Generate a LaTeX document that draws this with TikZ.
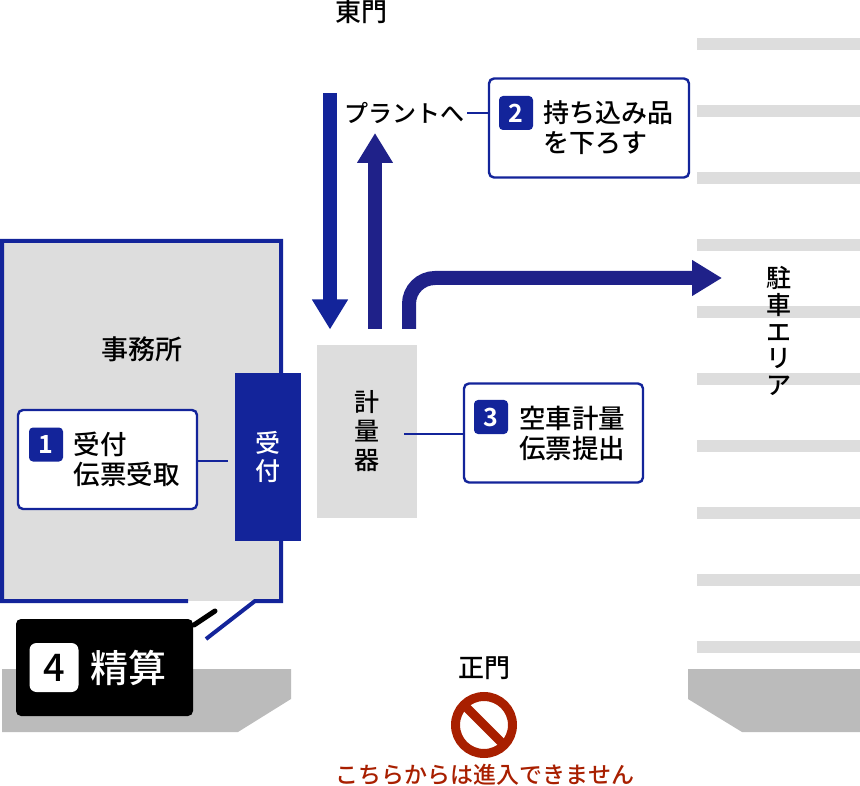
\documentclass[tikz,border=0pt]{standalone}
\usepackage{fontspec}
\setmainfont{Noto Sans CJK JP Medium}
\newfontfamily\digitfont{Noto Sans CJK JP Bold}
\usetikzlibrary{arrows.meta}

\definecolor{navy}{HTML}{13249A}
\definecolor{navyb}{HTML}{1F2189}
\definecolor{lightgr}{HTML}{DDDDDD}
\definecolor{darkgr}{HTML}{BBBBBB}
\definecolor{stopred}{HTML}{A81F00}

\tikzset{
  label/.style={inner sep=0pt, font=\fontsize{24}{29}\selectfont},
  callout/.style={draw=navy, line width=2.4pt, fill=white, rounded corners=5pt, inner sep=0pt, minimum width=#1, minimum height=99pt},
  badge/.style={fill=navy, text=white, rounded corners=4pt, inner sep=0pt, minimum size=34pt, font=\digitfont\fontsize{25}{25}\selectfont},
  callouttext/.style={anchor=west, align=left, inner sep=0pt, font=\fontsize{26.5}{30}\selectfont},
  road/.style={-{Triangle[length=30pt,width=34pt]}, line width=14pt},
  leader/.style={draw=navy, line width=2pt}
}

\begin{document}
\begin{tikzpicture}[x=1pt,y=-1pt]

\def\gateleft{(2,669) -- (291,669) -- (291,699) -- (238,732) -- (2,732) -- cycle}
\def\gateright{(688,669) -- (860,669) -- (860,732) -- (742,732) -- (688,699) -- cycle}

\useasboundingbox (0,0) rectangle (860,786);

% parking lines
\foreach \y in {44,111,178,245,312,379,446,513,580,647}
  \fill[lightgr] (697,\y-6) rectangle (860,\y+6);

\fill[darkgr] \gateleft;
\fill[darkgr] \gateright;

% office
\fill[lightgr] (0,239) rectangle (283,601);
\draw[navy, line width=4pt] (188,601) -- (2,601) -- (2,241) -- (281,241) -- (281,601) -- (255,601) -- (206,639);
\node[label, font=\fontsize{27}{27}\selectfont] (office) at (142,349) {事務所};

\node[fill=navy, text=white, inner sep=0pt, minimum width=66pt, minimum height=167pt, align=center, font=\fontsize{25}{28}\selectfont] (desk) at (268,457) {受\\付};

\node[fill=lightgr, inner sep=0pt, minimum width=100pt, minimum height=173pt, align=center, font=\fontsize{25}{29}\selectfont] (scale) at (367,431.5) {計\\量\\器};

% callouts
\coordinate (deskend) at (228,461);
\coordinate (scaleend) at (404,434);
\node[callout=179pt] (box1) at (107.5,459.5) {};
\node[badge] (num1) at (46,444.5) {1};
\node[callouttext] (text1) at (73.5,459) {受付\\伝票受取};
\draw[leader] (box1.east |- deskend) -- (deskend);

\node[callout=200pt] (box2) at (589,128) {};
\node[badge] (num2) at (516,113) {2};
\node[callouttext, font=\fontsize{26}{30}\selectfont] (text2) at (543.5,127.5) {持ち込み品\\を下ろす};
\node[label] (plant) at (404,113) {プラントへ};
\coordinate (plantend) at (467,113);
\draw[leader] (plantend) -- (box2.west |- plantend);

\node[callout=179pt] (box3) at (553.5,433) {};
\node[badge] (num3) at (491,417) {3};
\node[callouttext] (text3) at (519,433) {空車計量\\伝票提出};
\draw[leader] (scaleend) -- (box3.west |- scaleend);

% routes
\coordinate (inA) at (330,93);
\coordinate (inB) at (330,329.5);
\coordinate (outA) at (375,329);
\coordinate (outB) at (375,133);
\coordinate (parkA) at (409,329);
\coordinate (parkB) at (722,278);
\draw[road, navy] (inA) -- (inB);
\draw[road, navyb] (outA) -- (outB);
\draw[road, navyb, rounded corners=26pt] (parkA) |- (parkB);

\node[label, font=\fontsize{26}{26}\selectfont] (east) at (361,12) {東門};
\node[label, font=\fontsize{25}{26.7}\selectfont, align=center] (park) at (779,331) {駐\\車\\エ\\リ\\ア};

% payment
\coordinate (payA) at (194,625);
\coordinate (payB) at (215,611);
\draw[line width=5pt, line cap=round] (payA) -- (payB);
\node[fill=black, rounded corners=5pt, inner sep=0pt, minimum width=177pt, minimum height=97pt] (box4) at (104.5,667.5) {};
\node[fill=white, rounded corners=7pt, inner sep=0pt, minimum size=49pt, font=\fontsize{38}{38}\selectfont] (num4) at (54,667.5) {4};
\node[text=white, anchor=west, inner sep=0pt, font=\fontsize{38}{38}\selectfont] (text4) at (90,668) {精算};

% main gate
\node[label, font=\fontsize{26}{26}\selectfont] (gate) at (484,668) {正門};
\draw[stopred, line width=9pt] (484,725) circle (28.5);
\draw[stopred, line width=9pt] (484,725) ++(-20,-20) -- ++(40,40);
\node[label, text=stopred, font=\fontsize{23}{23}\selectfont] (noentry) at (485,775) {こちらからは進入できません};

\end{tikzpicture}
\end{document}
